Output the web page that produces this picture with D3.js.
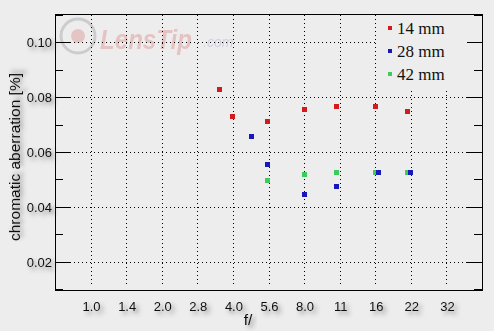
<!DOCTYPE html>
<html>
<head>
<meta charset="utf-8">
<script src="https://cdn.jsdelivr.net/npm/d3@7"></script>
<style>
    body { margin: 0; background: #ededed; }
    svg { display: block; }
    .lbl { font-family: 'Liberation Sans', Arial, sans-serif; font-size: 13px; fill: #111; }
    .axis-title { font-size: 15.5px; }
    .legend-text { font-family: 'Liberation Serif', 'DejaVu Serif', serif; font-size: 17px; fill: #111; }
</style>
</head>
<body>
<div id="chart"></div>
<script>
// f-stop ticks on the x axis
const fStops = ['1.0', '1.4', '2.0', '2.8', '4.0', '5.6', '8.0', '11', '16', '22', '32']
const yTicks = [0.02, 0.04, 0.06, 0.08, 0.10]

// measured apertures per focal length
const f14 = [3.5, 4.0, 5.6, 8.0, 11, 16, 22]
const ca14 = [0.0828, 0.0730, 0.0712, 0.0753, 0.0766, 0.0766, 0.0748]

const f28 = [4.8, 5.6, 8.0, 11, 16, 22]
const ca28 = [0.0658, 0.0555, 0.0446, 0.0475, 0.0526, 0.0526]

const f42 = [5.6, 8.0, 11, 16, 22]
const ca42 = [0.0497, 0.0519, 0.0526, 0.0526, 0.0526]

const seriesNames = ['14 mm', '28 mm', '42 mm']
const seriesColors = ['#d41a1a', '#1818b8', '#3ccc5a']

const DIM = {
    width: 494,
    height: 331,
    left: 55,
    top: 14,
    right: 482,
    bottom: 290
}

const svg = d3.select('#chart').append('svg')
    .attr('width', DIM.width)
    .attr('height', DIM.height)

const defs = svg.append('defs')
const shadow = defs.append('filter').attr('id', 'shadow')
    .attr('x', '-30%').attr('y', '-30%').attr('width', '170%').attr('height', '190%')
shadow.append('feDropShadow')
    .attr('dx', 3).attr('dy', 3).attr('stdDeviation', 2)
    .attr('flood-color', '#444').attr('flood-opacity', 0.6)

// x is linear in stop index (2*log2(f))
const stopIndex = f => 2 * Math.log2(f)
const xScale = d3.scaleLinear().domain([-1, 11]).range([DIM.left, DIM.right])
const yScale = d3.scaleLinear().domain([0.0098, 0.1102]).range([DIM.bottom, DIM.top])

// watermark
const wm = svg.append('g').attr('opacity', 0.24)
wm.append('circle').attr('cx', 78).attr('cy', 36).attr('r', 17)
    .attr('fill', 'none').attr('stroke', '#666').attr('stroke-width', 3)
wm.append('circle').attr('cx', 78).attr('cy', 36).attr('r', 7).attr('fill', '#c44')
wm.append('text').attr('x', 100).attr('y', 49)
    .attr('font-family', 'Liberation Sans, Arial, sans-serif')
    .attr('font-size', 27).attr('font-weight', 'bold').attr('font-style', 'italic')
    .attr('textLength', 92).attr('lengthAdjust', 'spacingAndGlyphs')
    .attr('fill', '#d04040').text('LensTip')
wm.append('text').attr('x', 203).attr('y', 47)
    .attr('font-family', 'Liberation Sans, Arial, sans-serif')
    .attr('font-size', 14).attr('font-style', 'italic')
    .attr('fill', '#7777bb').text('.com')

// grid
const grid = svg.append('g')
    .attr('stroke', '#000').attr('stroke-width', 1).attr('stroke-dasharray', '1,3')
grid.selectAll('.vgrid')
    .data(fStops)
    .join('line')
    .attr('class', 'vgrid')
    .attr('x1', (d, i) => Math.round(xScale(i)) + 0.5)
    .attr('x2', (d, i) => Math.round(xScale(i)) + 0.5)
    .attr('y1', DIM.top + 1)
    .attr('y2', DIM.bottom - 3)
grid.selectAll('.hgrid')
    .data(yTicks)
    .join('line')
    .attr('class', 'hgrid')
    .attr('x1', DIM.left + 15)
    .attr('x2', DIM.right - 15)
    .attr('y1', d => Math.round(yScale(d)) + 0.5)
    .attr('y2', d => Math.round(yScale(d)) + 0.5)

// legend background hides grid
const legendBox = { x: 377, y: DIM.top + 1, w: DIM.right - 378, h: 73 }
svg.append('rect')
    .attr('x', legendBox.x).attr('y', legendBox.y)
    .attr('width', legendBox.w).attr('height', legendBox.h)
    .attr('fill', '#ededed')

// frame and ticks
svg.append('rect')
    .attr('x', DIM.left + 0.5).attr('y', DIM.top + 0.5)
    .attr('width', DIM.right - DIM.left).attr('height', DIM.bottom - DIM.top)
    .attr('fill', 'none').attr('stroke', '#000')

const minorTicks = d3.range(0.01, 0.111, 0.01).filter(v => Math.round(v * 100) % 2 === 1)
const ticks = svg.append('g').attr('stroke', '#000')
yTicks.forEach(v => {
    const y = Math.round(yScale(v)) + 0.5
    ticks.append('line').attr('x1', DIM.left).attr('x2', DIM.left + 15).attr('y1', y).attr('y2', y)
    ticks.append('line').attr('x1', DIM.right - 15).attr('x2', DIM.right).attr('y1', y).attr('y2', y)
})
minorTicks.forEach(v => {
    const y = Math.round(yScale(v)) + 0.5
    ticks.append('line').attr('x1', DIM.left).attr('x2', DIM.left + 8).attr('y1', y).attr('y2', y)
    ticks.append('line').attr('x1', DIM.right - 8).attr('x2', DIM.right).attr('y1', y).attr('y2', y)
})

// tick labels
svg.selectAll('.ylab')
    .data(yTicks)
    .join('text')
    .attr('class', 'lbl ylab')
    .attr('filter', 'url(#shadow)')
    .attr('x', DIM.left - 3)
    .attr('y', d => yScale(d) + 5)
    .attr('text-anchor', 'end')
    .text(d => d.toFixed(2))

svg.selectAll('.xlab')
    .data(fStops)
    .join('text')
    .attr('class', 'lbl xlab')
    .attr('filter', 'url(#shadow)')
    .attr('x', (d, i) => xScale(i) + 1)
    .attr('y', 311)
    .attr('text-anchor', 'middle')
    .text(d => d)

svg.append('text')
    .attr('class', 'lbl axis-title')
    .attr('filter', 'url(#shadow)')
    .attr('transform', `translate(20, 157) rotate(-90)`)
    .attr('text-anchor', 'middle')
    .text('chromatic aberration [%]')

svg.append('text')
    .attr('class', 'lbl axis-title')
    .attr('filter', 'url(#shadow)')
    .attr('x', 248)
    .attr('y', 325)
    .attr('text-anchor', 'middle')
    .text('f/')

// points
const series = [
    { name: seriesNames[0], color: seriesColors[0], f: f14, ca: ca14 },
    { name: seriesNames[1], color: seriesColors[1], f: f28, ca: ca28 },
    { name: seriesNames[2], color: seriesColors[2], f: f42, ca: ca42 }
]

// draw green before blue so blue overlaps, dodge blue where it coincides with green
const drawOrder = [0, 2, 1]
drawOrder.forEach(si => {
    const s = series[si]
    const pts = s.f.map((f, i) => {
        let dx = 0
        if (si === 1) {
            const j = f42.indexOf(f)
            if (j >= 0 && Math.abs(ca42[j] - s.ca[i]) < 0.001) dx = 3
        }
        return { f: f, v: s.ca[i], dx: dx }
    })
    svg.append('g').selectAll('rect')
        .data(pts)
        .join('rect')
        .attr('x', d => Math.round(xScale(stopIndex(d.f)) - 2.5 + d.dx))
        .attr('y', d => Math.round(yScale(d.v) - 2.5))
        .attr('width', 5)
        .attr('height', 5)
        .attr('fill', s.color)
})

// legend
const legend = svg.append('g')
series.forEach((s, i) => {
    const y = 28 + i * 23
    legend.append('rect')
        .attr('x', 388).attr('y', y - 2)
        .attr('width', 4).attr('height', 4)
        .attr('fill', s.color)
    legend.append('text')
        .attr('class', 'legend-text')
        .attr('x', 397)
        .attr('y', y + 6)
        .text(s.name)
})
</script>
</body>
</html>
